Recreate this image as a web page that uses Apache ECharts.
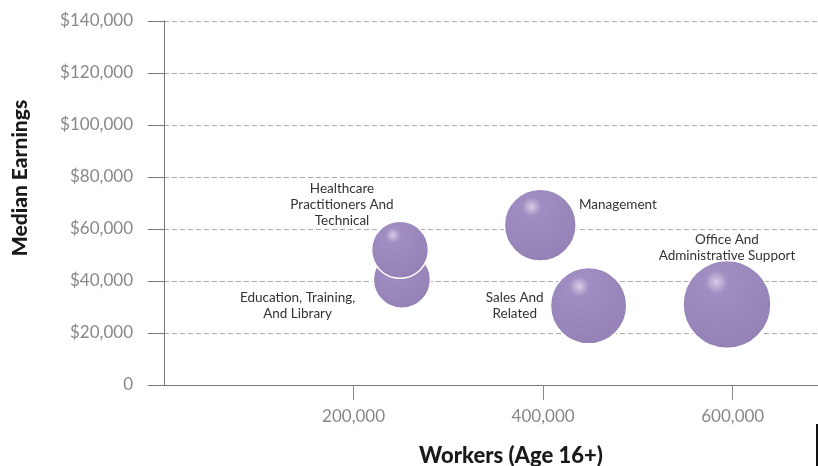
<!DOCTYPE html>
<html>
<head>
<meta charset="utf-8">
<script src="https://cdn.jsdelivr.net/npm/echarts@6/dist/echarts.min.js"></script>
<style>
  html, body { margin: 0; padding: 0; background: #fff; }
  #chart { width: 818px; height: 466px; }
</style>
</head>
<body>
<div id="chart"></div>
<script>
// occupations, workers (x) and median earnings (y)
const occupations = [
  'Education, Training,\nAnd Library',
  'Healthcare\nPractitioners And\nTechnical',
  'Management',
  'Sales And\nRelated',
  'Office And\nAdministrative Support'
]
const workers = [251000, 249000, 397000, 448000, 594000]
const earnings = [40500, 52000, 61500, 30500, 31000]
const yTicks = [0, 20000, 40000, 60000, 80000, 100000, 120000, 140000]

// where each label sits relative to its bubble
const labelPos = [
  { position: 'left', align: 'center', offset: [-70, 26] },
  { position: 'top', align: 'center', offset: [-58, 13] },
  { position: 'right', align: 'left', offset: [-3, -20] },
  { position: 'left', align: 'center', offset: [-30, 0] },
  { position: 'top', align: 'center', offset: [0, 9] }
]

const fmt = v => v.toLocaleString('en-US')

const bubbleColor = {
  type: 'radial', x: 0.38, y: 0.25, r: 0.8,
  colorStops: [
    { offset: 0, color: '#d6cce6' },
    { offset: 0.16, color: '#a08dc2' },
    { offset: 1, color: '#9380b5' }
  ]
}

const chart = echarts.init(document.getElementById('chart'))
chart.setOption({
  animation: false,
  textStyle: { fontFamily: 'Lato, sans-serif' },
  grid: { left: 164, right: 0, top: 21, bottom: 81, outerBoundsMode: 'none' },
  xAxis: {
    type: 'value',
    min: 0,
    max: 690000,
    interval: 200000,
    name: 'Workers (Age 16+)',
    nameLocation: 'middle',
    nameGap: 60,
    nameTextStyle: { fontSize: 22, fontWeight: 900, color: '#1a1a1a', padding: [0, 0, 0, 40] },
    axisLine: { lineStyle: { color: '#777', width: 1 } },
    axisTick: { show: true, length: 15, lineStyle: { color: '#888' } },
    axisLabel: {
      showMinLabel: false,
      showMaxLabel: false,
      margin: 23,
      fontSize: 17,
      color: '#888',
      formatter: v => fmt(v)
    },
    splitLine: { show: false }
  },
  yAxis: {
    type: 'value',
    min: yTicks[0],
    max: yTicks[yTicks.length - 1],
    interval: 20000,
    name: 'Median Earnings',
    nameLocation: 'middle',
    nameGap: 133,
    nameTextStyle: { fontSize: 21, fontWeight: 900, color: '#1a1a1a', padding: [0, 0, 0, 50] },
    axisLine: { show: true, lineStyle: { color: '#777', width: 1 } },
    axisTick: { show: true, length: 16, lineStyle: { color: '#777' } },
    axisLabel: {
      margin: 31,
      fontSize: 17,
      color: '#888',
      formatter: v => (v === 0 ? '0' : '$' + fmt(v))
    },
    splitLine: { show: true, lineStyle: { type: [5, 3], color: '#aaa', width: 1 } }
  },
  series: [{
    type: 'scatter',
    data: workers.map((w, i) => ({
      name: occupations[i],
      value: [w, earnings[i]],
      label: labelPos[i]
    })),
    // bubble area follows the number of workers
    symbolSize: d => 0.114 * Math.sqrt(d[0]),
    itemStyle: { color: bubbleColor, opacity: 1, borderColor: '#fff', borderWidth: 1.5 },
    label: {
      show: true,
      formatter: '{b}',
      fontSize: 13.5,
      lineHeight: 16,
      color: '#333'
    },
    emphasis: { disabled: true }
  }],
  graphic: [{
    type: 'rect',
    right: 0, bottom: 0,
    shape: { width: 2, height: 42 },
    style: { fill: '#111' }
  }]
})
</script>
</body>
</html>
